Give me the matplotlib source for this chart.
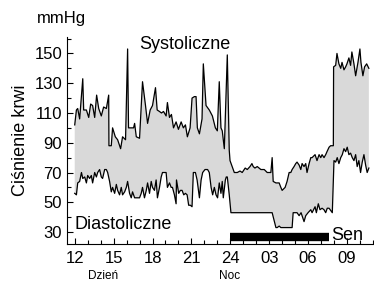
import numpy as np
import matplotlib
matplotlib.use('Agg')
import matplotlib.pyplot as plt
from matplotlib.ticker import MultipleLocator

plt.rcParams['font.family'] = ['Liberation Sans', 'DejaVu Sans']

### Pomiary (godzina od 12:00, 24+ = nastepny dzien), mmHg
sys_time = [12.0, 12.13, 12.23, 12.38, 12.52, 12.62, 12.69, 12.9, 13.08, 13.23, 13.38, 13.54, 13.69, 13.85,
            14.05, 14.23, 14.44, 14.62, 14.64, 14.82, 14.92, 15.13, 15.31, 15.54, 15.69, 15.92, 16.08, 16.15,
            16.36, 16.54, 16.62, 16.75, 17.0, 17.23, 17.46, 17.62, 17.82, 18.0, 18.23, 18.36, 18.54, 18.69,
            18.85, 19.05, 19.15, 19.31, 19.46, 19.62, 19.82, 20.0, 20.21, 20.38, 20.54, 20.69, 20.9, 21.05,
            21.23, 21.36, 21.46, 21.62, 21.82, 21.92, 22.13, 22.38, 22.62, 22.85, 23.0, 23.15, 23.28, 23.38,
            23.54, 23.77, 23.92, 23.98, 24.31, 24.44, 24.54, 24.75, 24.92, 25.15, 25.31, 25.52, 25.67, 25.77,
            25.9, 26.08, 26.36, 26.62, 26.85, 27.13, 27.23, 27.31, 27.52, 27.77, 27.9, 28.0, 28.23, 28.38,
            28.54, 28.67, 28.77, 28.92, 29.05, 29.15, 29.31, 29.44, 29.54, 29.69, 29.82, 29.92, 30.08, 30.21,
            30.31, 30.54, 30.69, 30.85, 30.98, 31.08, 31.23, 31.36, 31.46, 31.62, 31.74, 31.95, 31.97, 32.13,
            32.23, 32.38, 32.52, 32.62, 32.77, 32.9, 33.0, 33.15, 33.28, 33.38, 33.54, 33.67, 33.85, 34.0,
            34.08, 34.23, 34.36, 34.52, 34.69]
systolic = [102, 112, 113, 106, 122, 133, 112, 112, 107, 116, 115, 107, 122, 113,
            108, 114, 113, 122, 88, 88, 100, 94, 92, 86, 94, 92, 153, 100,
            100, 100, 103, 94, 93, 131, 115, 103, 112, 115, 127, 112, 111, 110,
            111, 108, 117, 107, 109, 100, 104, 99, 104, 100, 102, 94, 100, 120,
            121, 121, 100, 96, 106, 143, 115, 112, 108, 100, 98, 131, 100, 98,
            86, 149, 85, 78, 70, 70, 70, 71, 70, 73, 72, 74, 76, 74,
            73, 74, 72, 72, 70, 70, 80, 64, 63, 63, 60, 58, 60, 64,
            70, 70, 72, 74, 76, 77, 75, 72, 76, 74, 76, 70, 76, 80,
            80, 82, 78, 82, 80, 82, 80, 82, 84, 87, 88, 88, 141, 142,
            150, 143, 140, 144, 139, 141, 143, 147, 142, 151, 143, 135, 144, 153,
            144, 135, 141, 143, 140]

dia_time = [12.0, 12.13, 12.23, 12.38, 12.52, 12.62, 12.77, 12.9, 13.0, 13.15, 13.28, 13.38, 13.54, 13.67,
            13.77, 13.92, 14.05, 14.15, 14.31, 14.44, 14.54, 14.69, 14.82, 14.92, 15.08, 15.21, 15.31, 15.46,
            15.59, 15.69, 15.85, 15.98, 16.08, 16.23, 16.36, 16.46, 16.62, 16.75, 16.85, 17.0, 17.13, 17.23,
            17.38, 17.52, 17.62, 17.77, 17.9, 18.0, 18.15, 18.28, 18.38, 18.54, 18.67, 18.77, 18.92, 19.05,
            19.15, 19.31, 19.44, 19.54, 19.69, 19.82, 19.85, 20.02, 20.15, 20.28, 20.41, 20.54, 20.67, 20.79,
            20.92, 21.05, 21.15, 21.31, 21.44, 21.62, 21.75, 21.87, 22.05, 22.25, 22.38, 22.52, 22.64, 22.77,
            22.9, 23.02, 23.15, 23.28, 23.38, 23.46, 23.62, 23.69, 23.77, 23.92, 24.05, 27.23, 27.52, 27.62,
            27.77, 27.9, 28.0, 28.15, 28.28, 28.54, 28.77, 28.85, 29.0, 29.15, 29.31, 29.46, 29.69, 29.82,
            30.0, 30.21, 30.31, 30.54, 30.64, 30.79, 30.92, 31.08, 31.23, 31.36, 31.48, 31.62, 31.87, 32.0,
            32.13, 32.25, 32.38, 32.52, 32.64, 32.77, 32.9, 33.02, 33.15, 33.28, 33.41, 33.54, 33.67, 33.79,
            33.92, 34.05, 34.18, 34.31, 34.44, 34.56, 34.69]
diastolic = [56, 55, 63, 64, 70, 66, 67, 63, 68, 66, 68, 63, 70, 67,
             70, 72, 67, 66, 72, 72, 70, 64, 57, 60, 56, 62, 58, 55,
             60, 55, 57, 60, 64, 56, 53, 57, 53, 53, 53, 53, 56, 60,
             53, 58, 63, 56, 64, 60, 58, 65, 53, 60, 67, 70, 70, 70,
             60, 63, 60, 60, 55, 49, 65, 56, 58, 58, 55, 56, 55, 48,
             48, 47, 70, 70, 65, 53, 65, 70, 72, 72, 70, 60, 55, 60,
             55, 53, 63, 56, 64, 53, 65, 67, 67, 55, 43, 43, 33, 33,
             34, 33, 33, 33, 33, 33, 33, 43, 43, 43, 41, 43, 37, 41,
             43, 45, 43, 47, 43, 49, 45, 46, 45, 43, 46, 46, 43, 78,
             77, 80, 76, 80, 82, 86, 84, 87, 82, 83, 80, 78, 82, 74,
             78, 70, 77, 82, 75, 70, 73]

hour_ticks = [12, 15, 18, 21, 24, 27, 30, 33]
hour_labels = ['12', '15', '18', '21', '24', '03', '06', '09']
sleep = [24.0, 31.6]

fig = plt.figure(figsize=(3.74, 2.83), dpi=100)
ax = fig.add_axes([0.179, 0.138, 0.818, 0.731])

### obszar miedzy krzywymi
ax.fill(np.concatenate([sys_time, dia_time[::-1]]), np.concatenate([systolic, diastolic[::-1]]),
        color='#d9d9d9', lw=0, zorder=1)
ax.plot(sys_time, systolic, color='black', lw=0.9, zorder=2)
ax.plot(dia_time, diastolic, color='black', lw=0.9, zorder=2)

### pasek snu
ax.plot(sleep, [27, 27], color='black', lw=6, solid_capstyle='butt', zorder=3)
ax.text(31.75, 27.5, 'Sen', fontsize=13, va='center', ha='left')

ax.text(20.5, 156, 'Systoliczne', fontsize=13, ha='center', va='center')
ax.text(12.0, 35, 'Diastoliczne', fontsize=13, ha='left', va='center')

ax.set_xlim(11.4, 35)
ax.set_ylim(22, 161)
ax.set_xticks(hour_ticks)
ax.set_xticklabels(hour_labels)
ax.xaxis.set_minor_locator(MultipleLocator(1))
ax.set_yticks([30, 50, 70, 90, 110, 130, 150])
ax.yaxis.set_minor_locator(MultipleLocator(10))
ax.tick_params(which='both', direction='in', labelsize=12, width=0.8)
ax.tick_params(which='major', length=4)
ax.tick_params(which='minor', length=3)
ax.tick_params(axis='x', pad=5)
ax.spines['top'].set_visible(False)
ax.spines['right'].set_visible(False)

ax.set_ylabel('Ciśnienie krwi', fontsize=13, labelpad=4)
fig.text(0.10, 0.935, 'mmHg', fontsize=12, ha='left', va='center')
fig.text(0.275, 0.005, 'Dzień', fontsize=8.5, ha='center', va='bottom')
fig.text(0.615, 0.005, 'Noc', fontsize=8.5, ha='center', va='bottom')

fig.savefig('out.png', dpi=100)
